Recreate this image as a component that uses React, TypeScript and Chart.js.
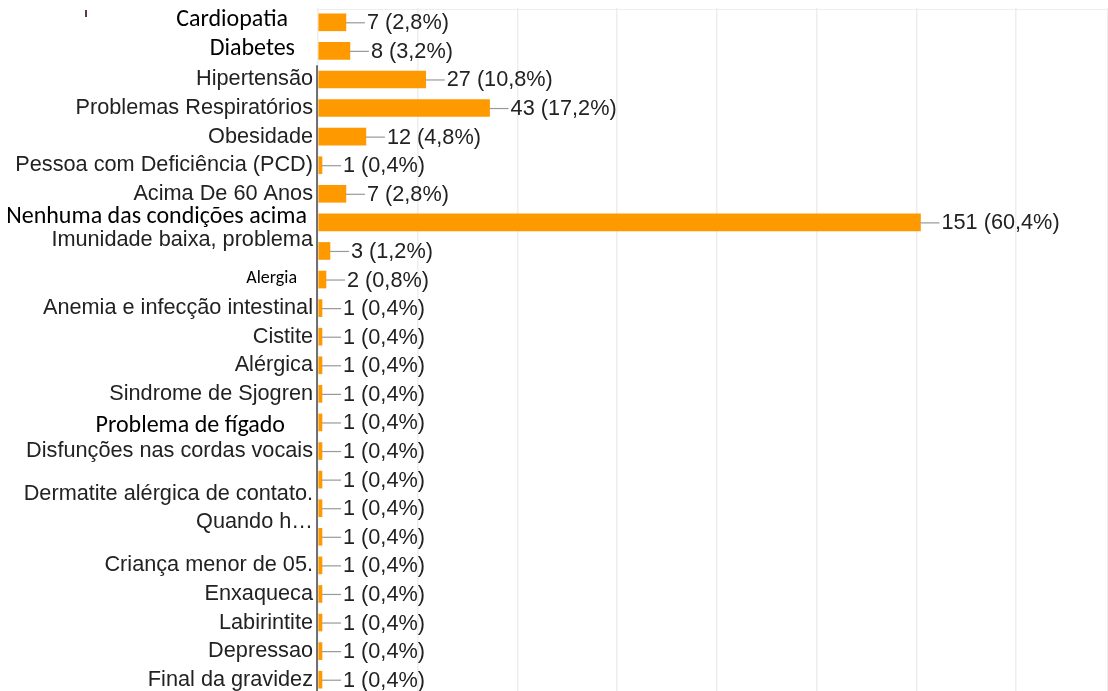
import React, { useEffect, useRef } from "react";
import { Chart, registerables } from "chart.js";

Chart.register(...registerables);

const categories: (string | string[])[] = [
  "Cardiopatia",
  "Diabetes",
  "Hipertensão",
  "Problemas Respiratórios",
  "Obesidade",
  "Pessoa com Deficiência (PCD)",
  "Acima De 60 Anos",
  "Nenhuma das condições acima",
  "Imunidade baixa, problema",
  "Alergia",
  "Anemia e infecção intestinal",
  "Cistite",
  "Alérgica",
  "Sindrome de Sjogren",
  "Problema de fígado",
  "Disfunções nas cordas vocais",
  "",
  ["Dermatite alérgica de contato.", "Quando h…"],
  "",
  "Criança menor de 05.",
  "Enxaqueca",
  "Labirintite",
  "Depressao",
  "Final da gravidez",
];

const counts: number[] = [7, 8, 27, 43, 12, 1, 7, 151, 3, 2, 1, 1, 1, 1, 1, 1, 1, 1, 1, 1, 1, 1, 1, 1];

const respondents = 250;

const xTickStep = 25;
const xMax = 198;

// Styling for labels that were pasted over the original in another typeface
const CAL = '"Carlito", "Lato", "Open Sans", sans-serif';
const overlayLabels: Record<number, { font: string; color: string; dx: number; dy: number }> = {
  0: { font: `24px ${CAL}`, color: "#000", dx: -25, dy: -2 },
  1: { font: `24px ${CAL}`, color: "#000", dx: -18, dy: -2 },
  7: { font: `24px ${CAL}`, color: "#000", dx: -6, dy: -5 },
  8: { font: `21.7px "Liberation Sans", Arial, sans-serif`, color: "#222", dx: 0, dy: -11 },
  9: { font: `18px ${CAL}`, color: "#000", dx: -16, dy: -1 },
  14: { font: `24px ${CAL}`, color: "#000", dx: -28, dy: 4 },
};

const ARIAL = '21.7px "Liberation Sans", Arial, sans-serif';

const fmtPct = (v: number) => ((v / respondents) * 100).toFixed(1).replace(".", ",") + "%";

const labelsPlugin = {
  id: "labelsPlugin",
  afterDraw(chart: any) {
    const ctx = chart.ctx as CanvasRenderingContext2D;
    const { chartArea } = chart;
    const xs = chart.scales.x;
    const ys = chart.scales.y;
    ctx.save();

    // top border
    ctx.strokeStyle = "#eeeeee";
    ctx.lineWidth = 1;
    ctx.beginPath();
    ctx.moveTo(chartArea.left, chartArea.top + 1.5);
    ctx.lineTo(chartArea.right, chartArea.top + 1.5);
    ctx.stroke();

    // axis line
    const ax = xs.getPixelForValue(0) - 1;
    ctx.strokeStyle = "#444";
    ctx.lineWidth = 1.5;
    ctx.beginPath();
    ctx.moveTo(ax, ys.getPixelForValue(1.5));
    ctx.lineTo(ax, chartArea.bottom);
    ctx.stroke();

    ctx.textBaseline = "middle";
    categories.forEach((cat, i) => {
      const y = ys.getPixelForValue(i);
      const ov = overlayLabels[i];
      ctx.textAlign = "right";
      ctx.font = ov ? ov.font : ARIAL;
      ctx.fillStyle = ov ? ov.color : "#222";
      const x = ax - 4 + (ov ? ov.dx : 0);
      const yy = y + (ov ? ov.dy : 0);
      if (Array.isArray(cat)) {
        const lh = 28;
        cat.forEach((line, k) => {
          ctx.fillText(line, x, yy + (k - (cat.length - 1) / 2) * lh);
        });
      } else if (cat) {
        ctx.fillText(cat, x, yy);
      }

      // value label with leader line
      const v = counts[i];
      const bx = xs.getPixelForValue(v);
      ctx.strokeStyle = "#999";
      ctx.lineWidth = 1.2;
      ctx.beginPath();
      ctx.moveTo(bx, y + 0.5);
      ctx.lineTo(bx + 19, y + 0.5);
      ctx.stroke();
      ctx.textAlign = "left";
      ctx.font = ARIAL;
      ctx.fillStyle = "#222";
      ctx.fillText(`${v} (${fmtPct(v)})`, bx + 21, y + 1);
    });

    // small stray mark
    ctx.fillStyle = "#5a3a50";
    ctx.fillRect(85, 10, 2, 7);

    ctx.restore();
  },
};

export default function App() {
  const ref = useRef<HTMLCanvasElement | null>(null);
  useEffect(() => {
    document.body.style.margin = "0";
    const chart = new Chart(ref.current!, {
      type: "bar",
      data: {
        labels: categories as any,
        datasets: [
          {
            data: counts,
            backgroundColor: "#ff9900",
            borderWidth: 0,
            barThickness: 17,
          },
        ],
      },
      options: {
        indexAxis: "y",
        animation: false,
        responsive: false,
        layout: { padding: { left: 318, top: 8, right: 0, bottom: 0 } },
        plugins: { legend: { display: false }, tooltip: { enabled: false } },
        scales: {
          x: {
            min: 0,
            max: xMax,
            display: true,
            ticks: { display: false, stepSize: xTickStep },
            grid: { color: "#eeeeee", drawTicks: false, lineWidth: 1.5 },
            border: { display: false },
          },
          y: { display: false },
        },
      },
      plugins: [labelsPlugin],
    });
    return () => chart.destroy();
  }, []);
  return (
    <div style={{ position: "fixed", left: 0, top: 0, width: 1108, height: 691, overflow: "hidden", background: "#fff" }}>
      <canvas ref={ref} width={1108} height={694} />
    </div>
  );
}
